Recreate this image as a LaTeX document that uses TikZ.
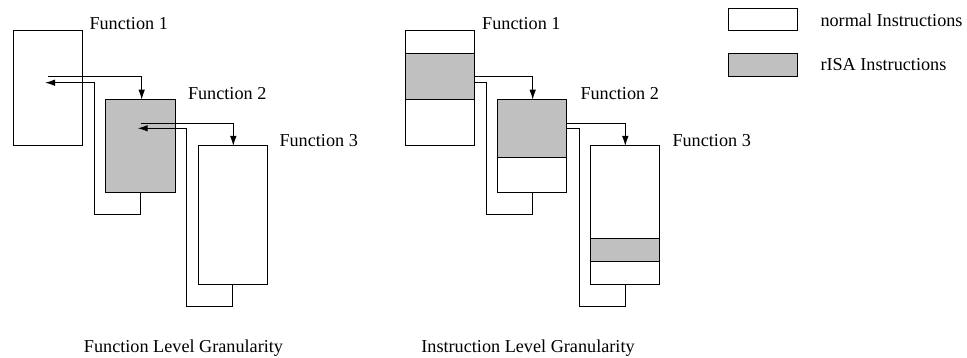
\documentclass[tikz,border=0pt]{standalone}
\usepackage{fontspec}
\setmainfont{Liberation Serif}
\usetikzlibrary{arrows.meta}
\definecolor{rgray}{HTML}{C0C0C0}
\begin{document}
\begin{tikzpicture}[x=1pt,y=-1pt,
  line width=1pt,
  fbox/.style={draw=black,fill=white},
  gbox/.style={draw=black,fill=rgray},
  lbl/.style={font=\fontsize{18.2}{21}\selectfont,anchor=west,inner sep=0pt},
  captxt/.style={font=\fontsize{18.2}{21}\selectfont,inner sep=0pt},
  link/.style={draw=black,line width=1pt},
  arr/.style={link,-{Latex[length=10pt,width=6.5pt]}}]
\useasboundingbox (0,0) rectangle (967,358);

% ---------- Left: Function level ----------
\path[fbox] (13.3,30.7) rectangle (82.7,146);
\coordinate (LF1a) at (48.3,76.7);
\coordinate (LF1b) at (45,82.7);
\path[gbox] (105.7,99.7) rectangle (175,192.3);
\path[fbox] (198,146) rectangle (267.3,285);
\node[lbl] (lf1) at (89,24) {Function 1};
\node[lbl] (lf2) at (187.5,94) {Function 2};
\node[lbl] (lf3) at (279,141) {Function 3};
% call / return F1-F2
\draw[arr] (LF1a) -- (141.7,76.7) -- (141.7,99.7);
\draw[arr] (140.3,192.3) -- (140.3,215) -- (94.3,215) -- (94.3,82.7) -- (LF1b);
% call / return F2-F3
\draw[arr] (141.3,123.3) -- (233.3,123.3) -- (233.3,146);
\draw[arr] (232.3,285) -- (232.3,306.7) -- (186.7,306.7) -- (186.7,128.3) -- (137.7,128.3);

\node[captxt] (lcap) at (183.5,348) {Function Level Granularity};

% ---------- Right: Instruction level ----------
\path[fbox] (405,30.7) rectangle (474.3,146);
\path[gbox] (405,53.3) rectangle (474.3,99.7);
\path[fbox] (497.3,99.7) rectangle (566.7,192.3);
\path[gbox] (497.3,99.7) rectangle (566.7,158);
\path[fbox] (590.3,146) rectangle (659.3,285);
\path[gbox] (590.3,238.7) rectangle (659.3,261.7);
\node[lbl] (rf1) at (481.7,24) {Function 1};
\node[lbl] (rf2) at (580,94) {Function 2};
\node[lbl] (rf3) at (672,141) {Function 3};
\draw[arr] (474.3,76.7) -- (532.7,76.7) -- (532.7,99.7);
\draw[link] (532.7,192.3) -- (532.7,215) -- (486.3,215) -- (486.3,82.7) -- (474.3,82.7);
\draw[arr] (566.7,123.3) -- (625.3,123.3) -- (625.3,146);
\draw[link] (625.3,285) -- (625.3,306.7) -- (579,306.7) -- (579,128.3) -- (566.7,128.3);

\node[captxt] (rcap) at (528,348) {Instruction Level Granularity};

% ---------- Legend ----------
\path[fbox] (728.3,8.3) rectangle (797.3,31);
\path[gbox] (728.3,53.3) rectangle (797.3,76.7);
\node[lbl] (ln) at (820,20) {normal Instructions};
\node[lbl] (lr) at (820,65) {rISA Instructions};
\end{tikzpicture}
\end{document}
